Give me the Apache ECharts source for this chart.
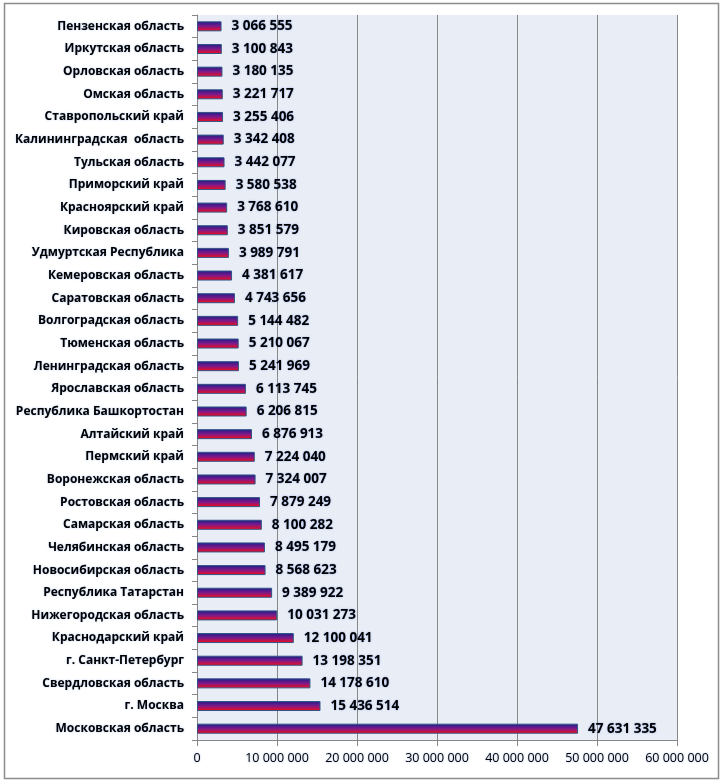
<!DOCTYPE html>
<html><head><meta charset="utf-8">
<script src="https://cdn.jsdelivr.net/npm/echarts@6/dist/echarts.min.js"></script>
<style>html,body{margin:0;padding:0;background:#fff}#c{width:723px;height:783px}</style>
</head><body><div id="c"></div>
<script>
const categories = ["Московская область","г. Москва","Свердловская область","г. Санкт-Петербург","Краснодарский край","Нижегородская область","Республика Татарстан","Новосибирская область","Челябинская область","Самарская область","Ростовская область","Воронежская область","Пермский край","Алтайский край","Республика Башкортостан","Ярославская область","Ленинградская область","Тюменская область","Волгоградская область","Саратовская область","Кемеровская область","Удмуртская Республика","Кировская область","Красноярский край","Приморский край","Тульская область","Калининградская  область","Ставропольский край","Омская область","Орловская область","Иркутская область","Пензенская область"];
const values = [47631335,15436514,14178610,13198351,12100041,10031273,9389922,8568623,8495179,8100282,7879249,7324007,7224040,6876913,6206815,6113745,5241969,5210067,5144482,4743656,4381617,3989791,3851579,3768610,3580538,3442077,3342408,3255406,3221717,3180135,3100843,3066555];
const fmt = v => String(v).replace(/\B(?=(\d{3})+(?!\d))/g, ' ');
const chart = echarts.init(document.getElementById('c'), null, {renderer:'canvas'});
chart.setOption({
  animation:false,
  graphic:[{type:'rect',shape:{x:4.5,y:3.5,width:714,height:775},style:{fill:'none',stroke:'#8c8c8c',lineWidth:1.5},z:-1}],
  grid:{left:197,right:46,top:15,bottom:43,show:true,backgroundColor:'#E9EDF6',borderWidth:0},
  xAxis:{type:'value',min:0,max:60000000,interval:10000000,
    axisLine:{show:true,lineStyle:{color:'#868686'}},
    axisTick:{show:true,length:6,lineStyle:{color:'#868686'}},
    splitLine:{show:true,lineStyle:{color:'#868686',width:1}},
    axisLabel:{formatter:fmt,color:'#000',fontFamily:'Open Sans',fontSize:12.5,margin:12,
      textShadowColor:'rgba(120,160,230,0.7)',textShadowBlur:2}},
  yAxis:{type:'category',data:categories,
    axisLine:{show:true,lineStyle:{color:'#868686'}},
    axisTick:{show:true,length:5,lineStyle:{color:'#868686'}},
    axisLabel:{color:'#000',fontFamily:'Open Sans',fontWeight:'bold',fontSize:12,margin:13,
      textShadowColor:'rgba(120,160,230,0.6)',textShadowBlur:2}},
  series:[{type:'bar',data:values,barWidth:10,
    itemStyle:{borderColor:'#2F5587',borderWidth:1,
      color:new echarts.graphic.LinearGradient(0,0,0,1,[{offset:0,color:'#1C1C88'},{offset:0.5,color:'#7E1A8A'},{offset:1,color:'#FF0A10'}])},
    label:{show:true,position:'right',distance:10,formatter:p=>fmt(p.value),color:'#000',
      fontFamily:'Open Sans',fontWeight:'bold',fontSize:13.5,
      textShadowColor:'rgba(100,140,230,0.7)',textShadowBlur:2}}]
});
</script></body></html>
